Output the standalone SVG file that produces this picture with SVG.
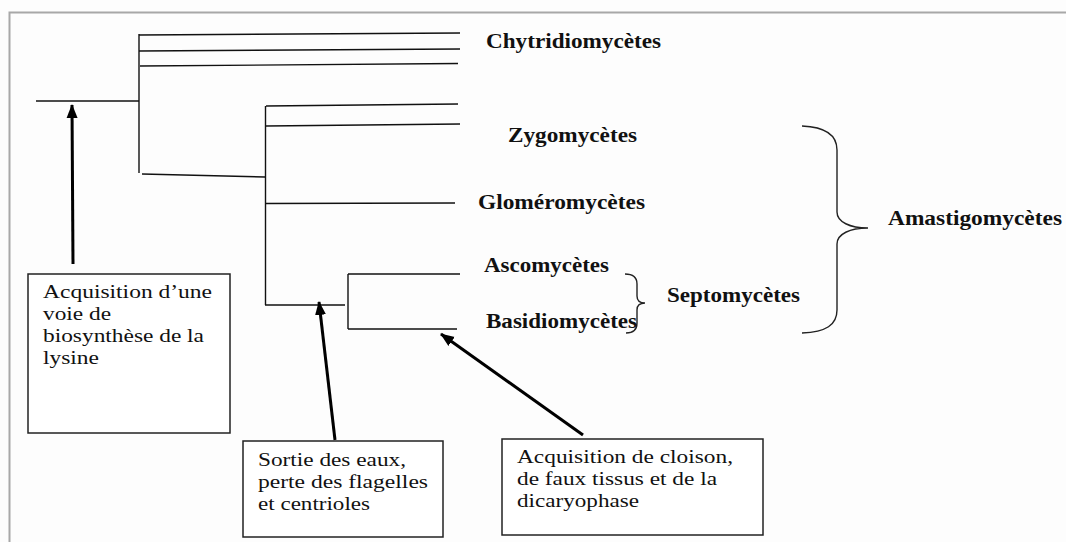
<svg xmlns="http://www.w3.org/2000/svg" width="1066" height="542" viewBox="0 0 1066 542">
  <style>
    .frame { fill: none; stroke: #a8a8a8; stroke-width: 2; }
    .tree { fill: none; stroke: #111; stroke-width: 1.4; }
    .brace { fill: none; stroke: #222; stroke-width: 1.4; }
    .arrow { fill: none; stroke: #000; stroke-width: 3; }
    .box { fill: #fff; stroke: #222; stroke-width: 1.5; }
    .lbl { font-family: "Liberation Serif", "Times New Roman", serif; font-weight: bold; font-size: 21px; fill: #111; }
    .txt { font-family: "Liberation Serif", "Times New Roman", serif; font-size: 19.5px; fill: #111; }
  </style>
  <defs>
    <marker id="head" markerUnits="userSpaceOnUse" markerWidth="14" markerHeight="14" viewBox="0 0 14 14" refX="13" refY="7" orient="auto">
      <path d="M0,1.5 L14,7 L0,12.5 Z" fill="#000"/>
    </marker>
  </defs>
  <rect x="0" y="0" width="1066" height="542" fill="#fdfdfd"/>
  <path class="frame" d="M9.5,542 L9.5,12.5 L1066,12.5"/>

  <g id="connectors">
    <g id="tree">
      <line class="tree" x1="36" y1="101" x2="139" y2="101"/>
      <line class="tree" x1="139" y1="34" x2="139" y2="173"/>
      <line class="tree" x1="139" y1="35" x2="460" y2="33"/>
      <line class="tree" x1="139" y1="51" x2="460" y2="49"/>
      <line class="tree" x1="140" y1="66" x2="458" y2="63.5"/>
      <line class="tree" x1="142" y1="174" x2="265" y2="177"/>
      <line class="tree" x1="265.5" y1="106" x2="265.5" y2="305"/>
      <line class="tree" x1="266" y1="106" x2="458" y2="104"/>
      <line class="tree" x1="266" y1="126" x2="460" y2="124"/>
      <line class="tree" x1="265" y1="203.5" x2="455" y2="203"/>
      <line class="tree" x1="265" y1="305" x2="345" y2="305"/>
      <line class="tree" x1="348" y1="274" x2="348" y2="329"/>
      <line class="tree" x1="348" y1="274" x2="460" y2="274"/>
      <line class="tree" x1="348" y1="329" x2="457" y2="329"/>
    </g>
    <g id="arrows">
      <line class="arrow" x1="73" y1="264" x2="72" y2="105" marker-end="url(#head)"/>
      <line class="arrow" x1="335" y1="440" x2="319" y2="302" marker-end="url(#head)"/>
      <line class="arrow" x1="583" y1="435" x2="441" y2="334" marker-end="url(#head)"/>
    </g>
    <g id="braces">
      <path class="brace" d="M625,274 Q637,274 637,284 L637,296 Q637,303 645,303 Q637,303 637,310 L637,323 Q637,333 626,333"/>
      <path class="brace" d="M802,126 C826,127 837,135 837,150 L837,212 C837,222 850,228 868,228 C850,228 837,234 837,244 L837,310 C837,325 826,332 802,333"/>
    </g>
  </g>

  <g id="node-chytridiomycetes"><text class="lbl" x="486" y="48" textLength="175" lengthAdjust="spacingAndGlyphs">Chytridiomycètes</text></g>
  <g id="node-zygomycetes"><text class="lbl" x="508" y="142" textLength="129" lengthAdjust="spacingAndGlyphs">Zygomycètes</text></g>
  <g id="node-glomeromycetes"><text class="lbl" x="478" y="209" textLength="167" lengthAdjust="spacingAndGlyphs">Gloméromycètes</text></g>
  <g id="node-ascomycetes"><text class="lbl" x="484" y="272" textLength="125" lengthAdjust="spacingAndGlyphs">Ascomycètes</text></g>
  <g id="node-basidiomycetes"><text class="lbl" x="486" y="328" textLength="151" lengthAdjust="spacingAndGlyphs">Basidiomycètes</text></g>
  <g id="node-septomycetes"><text class="lbl" x="667" y="302" textLength="133" lengthAdjust="spacingAndGlyphs">Septomycètes</text></g>
  <g id="node-amastigomycetes"><text class="lbl" x="888" y="225" textLength="174" lengthAdjust="spacingAndGlyphs">Amastigomycètes</text></g>

  <g id="box-lysine">
    <rect class="box" x="28" y="274" width="202" height="159"/>
    <text class="txt" x="43" y="298" textLength="169" lengthAdjust="spacingAndGlyphs">Acquisition d’une</text>
    <text class="txt" x="43" y="320" textLength="68" lengthAdjust="spacingAndGlyphs">voie de</text>
    <text class="txt" x="43" y="342" textLength="161" lengthAdjust="spacingAndGlyphs">biosynthèse de la</text>
    <text class="txt" x="43" y="364" textLength="56" lengthAdjust="spacingAndGlyphs">lysine</text>
  </g>
  <g id="box-sortie">
    <rect class="box" x="243" y="441" width="200" height="96"/>
    <text class="txt" x="258" y="466" textLength="148" lengthAdjust="spacingAndGlyphs">Sortie des eaux,</text>
    <text class="txt" x="258" y="488" textLength="170" lengthAdjust="spacingAndGlyphs">perte des flagelles</text>
    <text class="txt" x="258" y="510" textLength="112" lengthAdjust="spacingAndGlyphs">et centrioles</text>
  </g>
  <g id="box-cloison">
    <rect class="box" x="502" y="439" width="261" height="96"/>
    <text class="txt" x="517" y="463" textLength="216" lengthAdjust="spacingAndGlyphs">Acquisition de cloison,</text>
    <text class="txt" x="517" y="485" textLength="200" lengthAdjust="spacingAndGlyphs">de faux tissus et de la</text>
    <text class="txt" x="517" y="507" textLength="122" lengthAdjust="spacingAndGlyphs">dicaryophase</text>
  </g>
</svg>
